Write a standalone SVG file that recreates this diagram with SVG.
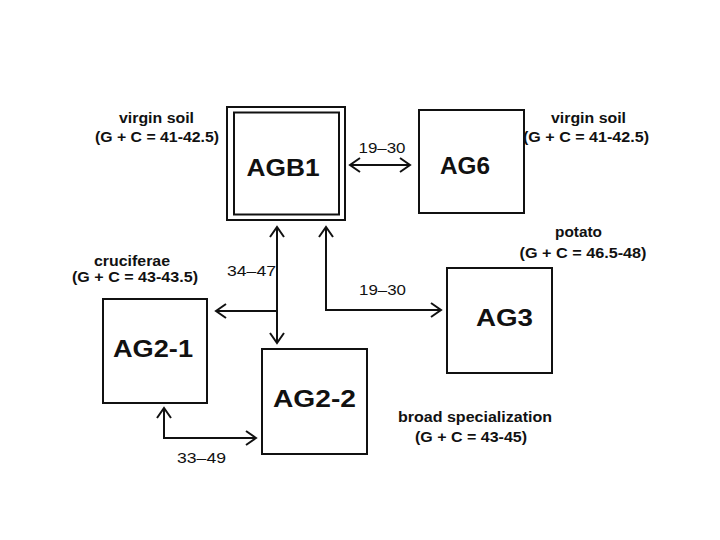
<svg xmlns="http://www.w3.org/2000/svg" width="720" height="540" viewBox="0 0 720 540">
<style>
.box{fill:#fff;stroke:#111;stroke-width:2}
.conn{fill:none;stroke:#111;stroke-width:2}
.node{font-family:"Liberation Sans",Arial,sans-serif;font-weight:bold;font-size:24px;fill:#111;text-anchor:middle}
.lbl{font-family:"Liberation Sans",Arial,sans-serif;font-weight:bold;font-size:14.5px;fill:#111;text-anchor:middle}
.num{font-family:"Liberation Sans",Arial,sans-serif;font-size:15px;fill:#111;text-anchor:middle}
</style>
<defs>
<marker id="arr" markerUnits="userSpaceOnUse" markerWidth="14" markerHeight="18" viewBox="0 0 14 18" refX="12" refY="9" orient="auto-start-reverse">
<path d="M2,2 L12,9 L2,16" fill="none" stroke="#111" stroke-width="2"/>
</marker>
</defs>
<rect width="720" height="540" fill="#fff"/>

<g id="connectors">
<line class="conn" x1="350" y1="165" x2="410" y2="165" marker-start="url(#arr)" marker-end="url(#arr)"/>
<line class="conn" x1="277" y1="227" x2="277" y2="343" marker-start="url(#arr)" marker-end="url(#arr)"/>
<line class="conn" x1="277" y1="311" x2="216" y2="311" marker-end="url(#arr)"/>
<path class="conn" d="M326,227 L326,310 L441,310" marker-start="url(#arr)" marker-end="url(#arr)"/>
<path class="conn" d="M164,408 L164,438 L256,438" marker-start="url(#arr)" marker-end="url(#arr)"/>
<text class="num" x="382" y="153" textLength="47" lengthAdjust="spacingAndGlyphs">19–30</text>
<text class="num" x="251.5" y="276" textLength="49" lengthAdjust="spacingAndGlyphs">34–47</text>
<text class="num" x="382.5" y="295" textLength="47" lengthAdjust="spacingAndGlyphs">19–30</text>
<text class="num" x="201.5" y="463" textLength="49" lengthAdjust="spacingAndGlyphs">33–49</text>
</g>

<g id="AGB1">
<rect class="box" x="227" y="107" width="118" height="113"/>
<rect class="box" x="234" y="112.5" width="105" height="102"/>
<text class="node" x="283" y="176" textLength="73" lengthAdjust="spacingAndGlyphs">AGB1</text>
<text class="lbl" x="156.5" y="123" textLength="75" lengthAdjust="spacingAndGlyphs">virgin soil</text>
<text class="lbl" x="157" y="142" textLength="124" lengthAdjust="spacingAndGlyphs">(G + C = 41-42.5)</text>
</g>

<g id="AG6">
<rect class="box" x="419" y="110" width="105" height="103"/>
<text class="node" x="465" y="174" textLength="50" lengthAdjust="spacingAndGlyphs">AG6</text>
<text class="lbl" x="588.5" y="123" textLength="75" lengthAdjust="spacingAndGlyphs">virgin soil</text>
<text class="lbl" x="586" y="142" textLength="126" lengthAdjust="spacingAndGlyphs">(G + C = 41-42.5)</text>
</g>

<g id="AG2-1">
<rect class="box" x="103" y="299" width="104" height="104"/>
<text class="node" x="153" y="357" textLength="80" lengthAdjust="spacingAndGlyphs">AG2-1</text>
<text class="lbl" x="132" y="266" textLength="76" lengthAdjust="spacingAndGlyphs">cruciferae</text>
<text class="lbl" x="135" y="282" textLength="126" lengthAdjust="spacingAndGlyphs">(G + C = 43-43.5)</text>
</g>

<g id="AG2-2">
<rect class="box" x="262" y="349" width="105" height="105"/>
<text class="node" x="314.5" y="407" textLength="83" lengthAdjust="spacingAndGlyphs">AG2-2</text>
<text class="lbl" x="475" y="422" textLength="154" lengthAdjust="spacingAndGlyphs">broad specialization</text>
<text class="lbl" x="471" y="442" textLength="112" lengthAdjust="spacingAndGlyphs">(G + C = 43-45)</text>
</g>

<g id="AG3">
<rect class="box" x="447" y="268" width="105" height="105"/>
<text class="node" x="504.5" y="326" textLength="57" lengthAdjust="spacingAndGlyphs">AG3</text>
<text class="lbl" x="578.5" y="237" textLength="47" lengthAdjust="spacingAndGlyphs">potato</text>
<text class="lbl" x="583" y="258" textLength="127" lengthAdjust="spacingAndGlyphs">(G + C = 46.5-48)</text>
</g>
</svg>
